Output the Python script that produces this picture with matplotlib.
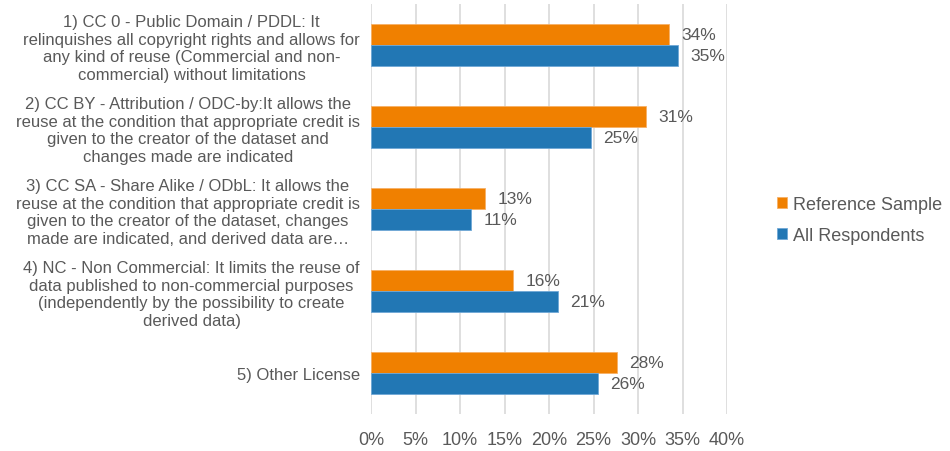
import matplotlib.pyplot as plt
import numpy as np

# данные
categories = [
    "1) CC 0 - Public Domain / PDDL: It\nrelinquishes all copyright rights and allows for\nany kind of reuse (Commercial and non-\ncommercial) without limitations",
    "2) CC BY - Attribution / ODC-by:It allows the\nreuse at the condition that appropriate credit is\ngiven to the creator of the dataset and\nchanges made are indicated",
    "3) CC SA - Share Alike / ODbL: It allows the\nreuse at the condition that appropriate credit is\ngiven to the creator of the dataset, changes\nmade are indicated, and derived data are…",
    "4) NC - Non Commercial: It limits the reuse of\ndata published to non-commercial purposes\n(independently by the possibility to create\nderived data)",
    "5) Other License",
]
reference_sample = [33.5, 30.9, 12.8, 16.0, 27.6]
all_respondents = [34.5, 24.7, 11.2, 21.0, 25.5]
labels_ref = ["34%", "31%", "13%", "16%", "28%"]
labels_all = ["35%", "25%", "11%", "21%", "26%"]
xticks = [0, 5, 10, 15, 20, 25, 30, 35, 40]

plt.rcParams['font.family'] = ['Liberation Sans', 'DejaVu Sans']
text_col = '#595959'
orange = '#F08000'
blue = '#2277B4'

fig = plt.figure(figsize=(9.5, 4.52), dpi=100)
ax = fig.add_axes([371 / 950, 1 - 415 / 452, 356 / 950, 410 / 452])

y = np.arange(len(categories))
h = 0.256
bars_ref = ax.barh(y - h / 2, reference_sample, height=h, color=orange,
                   edgecolor='#F6B066', linewidth=0.6, label='Reference Sample', zorder=3)
bars_all = ax.barh(y + h / 2, all_respondents, height=h, color=blue,
                   edgecolor='#6FA8D6', linewidth=0.6, label='All Respondents', zorder=3)

# подписи значений
for b, t in zip(bars_ref, labels_ref):
    ax.text(b.get_width() + 1.4, b.get_y() + b.get_height() / 2, t,
            va='center', ha='left', fontsize=12.5, color=text_col)
for b, t in zip(bars_all, labels_all):
    ax.text(b.get_width() + 1.4, b.get_y() + b.get_height() / 2, t,
            va='center', ha='left', fontsize=12.5, color=text_col)

ax.set_xlim(0, 40)
ax.set_ylim(len(categories) - 0.5, -0.5)
ax.set_xticks(xticks)
ax.set_xticklabels([f"{v}%" for v in xticks], fontsize=13, color=text_col)
ax.set_yticks(y)
ax.set_yticklabels(categories, fontsize=12, color=text_col, linespacing=1.22,
                   multialignment='center')
ax.tick_params(axis='both', length=0)
ax.tick_params(axis='x', pad=12)
ax.tick_params(axis='y', pad=8)
ax.grid(axis='x', color='#D9D9D9', linewidth=1.2, zorder=0)
for s in ax.spines.values():
    s.set_visible(False)

leg = fig.legend(loc='center left', bbox_to_anchor=(761 / 950, 1 - 221 / 452),
                 frameon=False, fontsize=13, handlelength=0.55, handleheight=0.55,
                 handletextpad=0.3, labelspacing=0.75)
for t in leg.get_texts():
    t.set_color(text_col)

fig.savefig('out.png', dpi=100)
